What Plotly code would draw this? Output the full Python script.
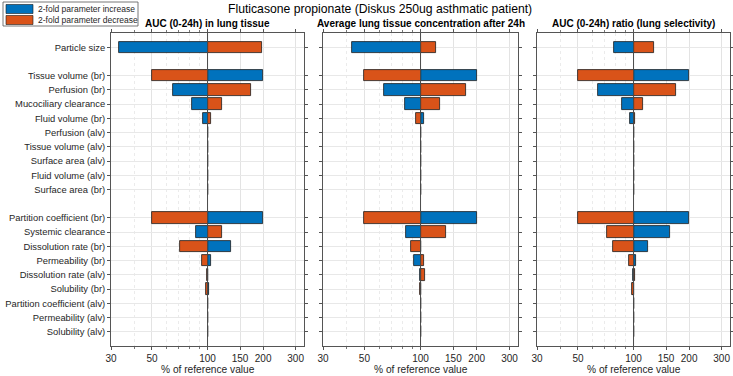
import math
import plotly.graph_objects as go

# ---------------- data ----------------
groups = [
    ["Particle size"],
    ["Tissue volume (br)", "Perfusion (br)", "Mucociliary clearance", "Fluid volume (br)",
     "Perfusion (alv)", "Tissue volume (alv)", "Surface area (alv)", "Fluid volume (alv)",
     "Surface area (br)"],
    ["Partition coefficient (br)", "Systemic clearance", "Dissolution rate (br)",
     "Permeability (br)", "Dissolution rate (alv)", "Solubility (br)",
     "Partition coefficient (alv)", "Permeability (alv)", "Solubility (alv)"],
]

panel_titles = ["AUC (0-24h) in lung tissue",
                "Average lung tissue concentration after 24h",
                "AUC (0-24h) ratio (lung selectivity)"]
series_names = ["2-fold parameter increase", "2-fold parameter decrease"]

# % of reference value after a 2-fold parameter increase
auc_increase = [33, 200, 65, 82.6, 94.3, 100, 100, 100, 100, 100,
                200, 86.5, 134, 104.6, 101, 101.5, 100, 100, 100]
# % of reference value after a 2-fold parameter decrease
auc_decrease = [198, 50, 171, 119.5, 103.8, 100, 100, 100, 100, 100,
                50, 119.5, 70.8, 93.5, 98.8, 97.8, 100, 100, 100]

conc_increase = [42.9, 200, 63.4, 82.4, 104.7, 100, 100, 100, 100, 100,
                 200, 83.7, 100, 91.7, 99, 100.8, 100, 100, 100]
conc_decrease = [121, 50, 176, 126.7, 94, 100, 100, 100, 100, 100,
                 50, 137, 89, 104.3, 105.5, 99.3, 100, 100, 100]

ratio_increase = [78.4, 199, 64.4, 86.1, 96, 100, 100, 100, 100, 100,
                  200, 157, 120.5, 102.5, 99.2, 99.5, 100, 100, 100]
ratio_decrease = [129.3, 50, 169.4, 112.3, 101.5, 100, 100, 100, 100, 100,
                  50, 71.8, 77.4, 94.7, 102, 97.5, 100, 100, 100]

reference_value = 100
tick_values = [30, 50, 100, 150, 200, 300]
minor_values = [40, 60, 70, 80, 90]

panels = [(auc_increase, auc_decrease),
          (conc_increase, conc_decrease),
          (ratio_increase, ratio_decrease)]

# ---------------- layout helpers ----------------
params = []
ypos = []
p = 1
for g in groups:
    for name in g:
        params.append(name)
        ypos.append(p)
        p += 1
    p += 1
y_max = p - 1  # bottom of axis (one blank slot after last)

W, H = 733, 376
BLUE = "#0072BD"
ORANGE = "#D95319"
EDGE = "#1a1a1a"
TXT = "#262626"
AX = "#555555"
FONT = "Liberation Sans, Arial, Helvetica, sans-serif"
colors = [BLUE, ORANGE]

x_px = [(111, 304), (323, 518), (537, 730)]
y_top, y_bot = 33, 346
ydom = [1 - y_bot / H, 1 - y_top / H]

fig = go.Figure()

for i, (inc, dec) in enumerate(panels):
    sfx = "" if i == 0 else str(i + 1)
    xa, ya = "x" + sfx, "y" + sfx
    for vals, col, nm in zip((inc, dec), colors, series_names):
        fig.add_trace(go.Bar(
            y=ypos, x=[v - reference_value for v in vals], base=reference_value,
            orientation="h", width=0.8,
            marker=dict(color=col, line=dict(color=EDGE, width=0.8)),
            name=nm, showlegend=False, xaxis=xa, yaxis=ya))
    fig.add_trace(go.Scatter(
        x=[reference_value, reference_value], y=[0, y_max], mode="lines",
        line=dict(color="#4a4a4a", width=1), showlegend=False, hoverinfo="skip",
        xaxis=xa, yaxis=ya))

    x0, x1 = x_px[i]
    fig.update_layout(**{
        "xaxis" + sfx: dict(
            domain=[x0 / W, x1 / W], anchor=ya, type="log", automargin=False,
            range=[math.log10(30), math.log10(333)],
            tickvals=tick_values, ticktext=[str(t) for t in tick_values],
            ticks="outside", ticklen=3, tickcolor=AX, tickwidth=0.6,
            showline=True, linecolor=AX, linewidth=0.8, mirror="ticks",
            showgrid=True, gridcolor="#e3e3e3", gridwidth=0.6,
            minor=dict(tickvals=minor_values, ticks="outside", ticklen=2,
                       tickcolor="#777", showgrid=True, gridcolor="#ebebeb",
                       griddash="dot", gridwidth=0.6),
            tickfont=dict(size=10, color=TXT, family=FONT),
            zeroline=False, fixedrange=True),
        "yaxis" + sfx: dict(
            domain=ydom, anchor=xa, range=[y_max, 0], automargin=False,
            tickvals=ypos, ticktext=params, showticklabels=(i == 0),
            ticks="outside", ticklen=3, tickcolor=AX, tickwidth=0.6,
            showline=True, linecolor=AX, linewidth=0.8, mirror="ticks",
            showgrid=True, gridcolor="#e8e8e8", gridwidth=0.6,
            tickfont=dict(size=9.4, color=TXT, family=FONT),
            zeroline=False, fixedrange=True),
    })
    fig.add_annotation(text="<b>" + panel_titles[i] + "</b>", xref="paper", yref="paper",
                       x=(x0 + x1) / 2 / W, y=1 - 23 / H, xanchor="center", yanchor="middle",
                       showarrow=False, font=dict(size=10, color="#000", family=FONT))
    fig.add_annotation(text="% of reference value", xref="paper", yref="paper",
                       x=(x0 + x1) / 2 / W, y=1 - 369 / H, xanchor="center", yanchor="middle",
                       showarrow=False, font=dict(size=10.2, color=TXT, family=FONT))

fig.add_annotation(text="Fluticasone propionate (Diskus 250ug asthmatic patient)",
                   xref="paper", yref="paper", x=380 / W, y=1 - 9 / H,
                   xanchor="center", yanchor="middle", showarrow=False,
                   font=dict(size=12.2, color="#000", family=FONT))

# ---- legend box (drawn in paper space, top-left) ----
fig.add_shape(type="rect", xref="paper", yref="paper",
              x0=3 / W, x1=138 / W, y0=1 - 26 / H, y1=1 - 2 / H,
              line=dict(color=AX, width=0.8), fillcolor="white", layer="above")
for k, (col, nm) in enumerate(zip(colors, series_names)):
    yc = 9 + 11 * k
    fig.add_shape(type="rect", xref="paper", yref="paper",
                  x0=6 / W, x1=33 / W, y0=1 - (yc + 4.5) / H, y1=1 - (yc - 4.5) / H,
                  line=dict(color=EDGE, width=0.6), fillcolor=col, layer="above")
    fig.add_annotation(text=nm, xref="paper", yref="paper", x=36 / W, y=1 - yc / H,
                       xanchor="left", yanchor="middle", showarrow=False,
                       font=dict(size=8.5, color=TXT, family=FONT))

fig.update_layout(
    width=W, height=H, margin=dict(l=0, r=0, t=0, b=0, autoexpand=False),
    paper_bgcolor="white", plot_bgcolor="white",
    barmode="overlay", bargap=0, showlegend=False,
    font=dict(family=FONT, color=TXT),
)

fig.write_html("out.html", config={"displayModeBar": False},
               post_script="document.body.style.margin='0px';document.body.style.overflow='hidden';")
